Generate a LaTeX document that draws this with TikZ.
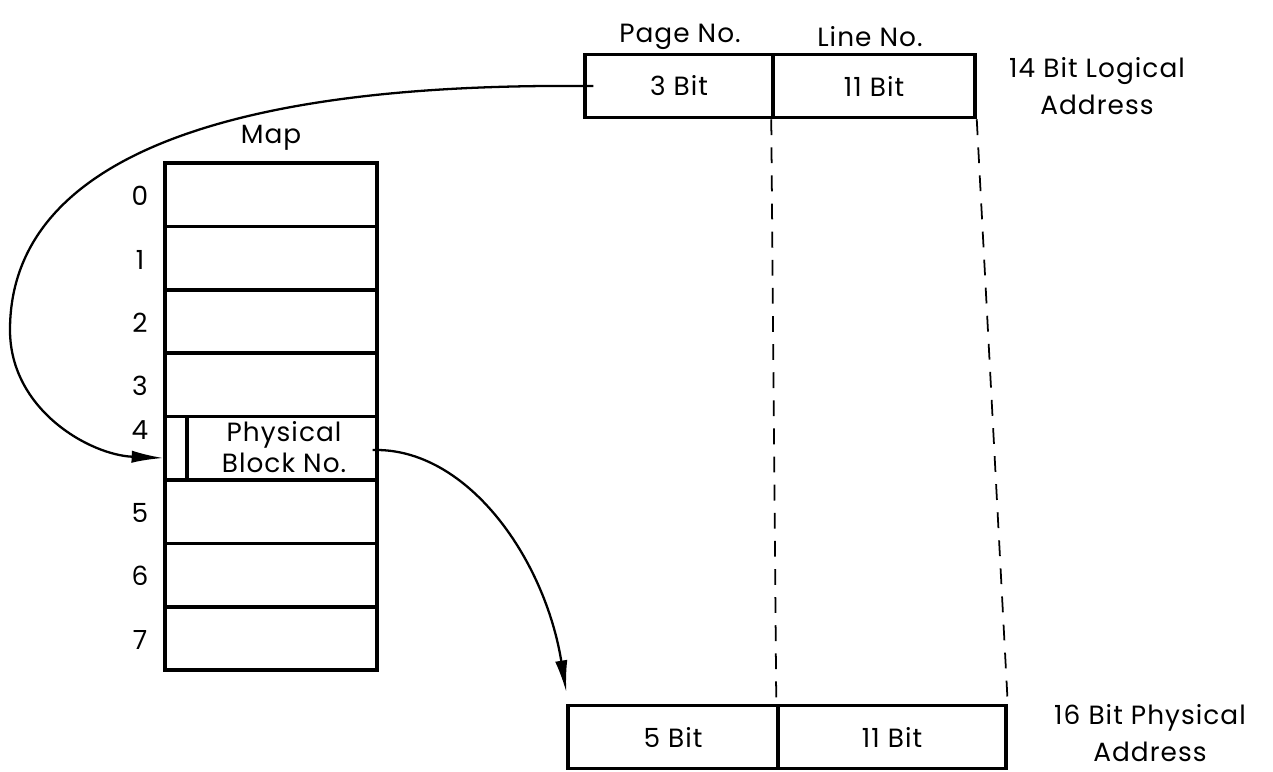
\documentclass[tikz,border=0pt]{standalone}
\usepackage{fontspec}
\setmainfont{Poppins}[LetterSpace=4]
\usetikzlibrary{arrows.meta}

\tikzset{
  field/.style={draw, line width=2pt, minimum height=1.26cm, inner sep=0pt,
    font=\fontsize{15}{21}\selectfont},
  maprow/.style={draw, line width=2pt, minimum width=4.24cm, minimum height=1.268cm,
    inner sep=0pt},
  caption/.style={font=\fontsize{15}{21.5}\selectfont, align=center},
  mapto/.style={line width=1.3pt, -{Latex[length=18pt,width=7pt]}},
  fieldsplit/.style={line width=1pt, dash pattern=on 9pt off 7pt},
}

\begin{document}
\begin{tikzpicture}[x=0.02cm, y=-0.02cm]
  \useasboundingbox (0,0) rectangle (1273,771);

  % logical address: page number | line number
  \node[field, minimum width=3.76cm] (page) at (679,86) {3 Bit};
  \node[field, minimum width=4.04cm] (line) at (874,86) {11 Bit};
  \node[caption] (pagehead) at (680,37) {Page No.};
  \node[caption] (linehead) at (870,37) {Line No.};
  \node[caption] (logical) at (1097,86) {14 Bit Logical\\Address};

  % the map, one row per page
  \node[caption] (maphead) at (271,138) {Map};
  \foreach \i in {0,...,7} {
    \node[maprow] (row\i) at (271,{194.7+63.4*\i}) {};
  }
  \foreach \i/\y in {0/196,1/260,2/323,3/386,4/430,5/513,6/576,7/640} {
    \node[caption] (num\i) at (140,\y) {\i};
  }
  % row 4 holds the physical block number
  \draw[line width=2pt] (187,418.3) -- (187,481.7);
  \node[caption, font=\fontsize{15}{17.5}\selectfont] (block) at (284,447) {Physical\\Block No.};

  % physical address: block number | line number
  \node[field, minimum width=4.2cm] (pblock) at (673,737) {5 Bit};
  \node[field, minimum width=4.56cm] (pline) at (892,737) {11 Bit};
  \node[caption] (physical) at (1150,733) {16 Bit Physical\\Address};

  % line number carried straight down
  \draw[fieldsplit] (line.south west) -- (pline.north west);
  \draw[fieldsplit] (line.south east) -- (pline.north east);

  % page number indexes the map, block number goes to the physical address
  \draw[mapto] ([xshift=0.2cm]page.west) -- (page.west)
    .. controls (200,83) and (10,170) .. (10,330)
    .. controls (10,410) and (90,455) .. (row4.west |- 0,458);
  \draw[mapto] ([xshift=-0.12cm]row4.east |- 0,450) -- (row4.east |- 0,450)
    .. controls (470,452) and (545,560) .. (pblock.north west |- 572,692);
\end{tikzpicture}
\end{document}
